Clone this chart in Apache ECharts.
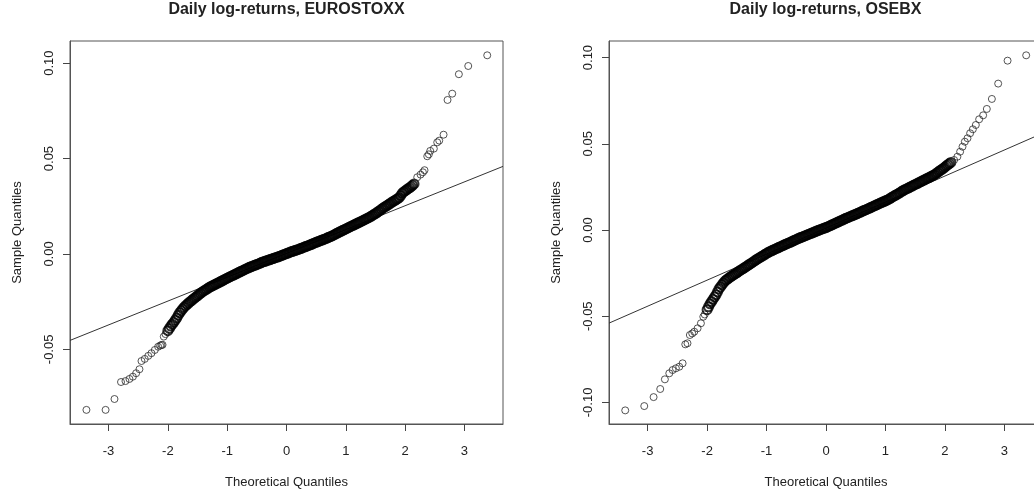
<!DOCTYPE html>
<html>
<head>
<meta charset="utf-8">
<script src="https://cdn.jsdelivr.net/npm/echarts@6/dist/echarts.min.js"></script>
<style>
html,body{margin:0;padding:0;background:#fff;}
#chart{width:1034px;height:495px;}
</style>
</head>
<body>
<div id="chart"></div>
<script>
// ---- Data ----
var titles = ['Daily log-returns, EUROSTOXX', 'Daily log-returns, OSEBX'];
var xTicks = [-3, -2, -1, 0, 1, 2, 3];
var yTicksEuro = [-0.05, 0, 0.05, 0.10];
var yTicksOsebx = [-0.10, -0.05, 0, 0.05, 0.10];

// EUROSTOXX: [theoretical quantile, sample quantile]
var euroLowerTail = [[-3.373,-0.0817],[-3.05,-0.0817],[-2.90,-0.0760],[-2.79,-0.0671],[-2.715,-0.0666],[-2.648,-0.0655],[-2.59,-0.0643],[-2.535,-0.0625],[-2.479,-0.0604],[-2.445,-0.0561],[-2.39,-0.0550],[-2.33,-0.0534],[-2.277,-0.0520],[-2.22,-0.0503],[-2.164,-0.0486],[-2.13,-0.0480],[-2.108,-0.0477],[-2.09,-0.0476],[-2.069,-0.0433],[-2.04,-0.0420]];
var euroBody = [[-2.000,-0.0402],[-1.975,-0.0390],[-1.950,-0.0378],[-1.925,-0.0368],[-1.900,-0.0358],[-1.875,-0.0347],[-1.850,-0.0335],[-1.825,-0.0321],[-1.800,-0.0308],[-1.775,-0.0298],[-1.750,-0.0288],[-1.725,-0.0279],[-1.700,-0.0271],[-1.675,-0.0264],[-1.650,-0.0257],[-1.625,-0.0250],[-1.600,-0.0244],[-1.575,-0.0237],[-1.550,-0.0231],[-1.525,-0.0225],[-1.500,-0.0219],[-1.475,-0.0212],[-1.450,-0.0206],[-1.425,-0.0200],[-1.400,-0.0195],[-1.375,-0.0190],[-1.350,-0.0185],[-1.325,-0.0180],[-1.300,-0.0175],[-1.275,-0.0171],[-1.250,-0.0167],[-1.225,-0.0163],[-1.200,-0.0159],[-1.175,-0.0155],[-1.150,-0.0151],[-1.125,-0.0147],[-1.100,-0.0143],[-1.075,-0.0139],[-1.050,-0.0135],[-1.025,-0.0131],[-1.000,-0.0127],[-0.975,-0.0123],[-0.950,-0.0119],[-0.925,-0.0115],[-0.900,-0.0112],[-0.875,-0.0108],[-0.850,-0.0104],[-0.825,-0.0100],[-0.800,-0.0096],[-0.775,-0.0092],[-0.750,-0.0089],[-0.725,-0.0085],[-0.700,-0.0081],[-0.675,-0.0077],[-0.650,-0.0074],[-0.625,-0.0070],[-0.600,-0.0067],[-0.575,-0.0064],[-0.550,-0.0061],[-0.525,-0.0058],[-0.500,-0.0055],[-0.475,-0.0052],[-0.450,-0.0049],[-0.425,-0.0045],[-0.400,-0.0042],[-0.375,-0.0040],[-0.350,-0.0037],[-0.325,-0.0034],[-0.300,-0.0032],[-0.275,-0.0029],[-0.250,-0.0026],[-0.225,-0.0024],[-0.200,-0.0021],[-0.175,-0.0018],[-0.150,-0.0016],[-0.125,-0.0013],[-0.100,-0.0010],[-0.075,-0.0007],[-0.050,-0.0004],[-0.025,-0.0001],[0.000,0.0002],[0.025,0.0005],[0.050,0.0008],[0.075,0.0011],[0.100,0.0014],[0.125,0.0016],[0.150,0.0019],[0.175,0.0021],[0.200,0.0024],[0.225,0.0027],[0.250,0.0030],[0.275,0.0033],[0.300,0.0036],[0.325,0.0039],[0.350,0.0042],[0.375,0.0045],[0.400,0.0048],[0.425,0.0051],[0.450,0.0055],[0.475,0.0058],[0.500,0.0061],[0.525,0.0064],[0.550,0.0067],[0.575,0.0070],[0.600,0.0073],[0.625,0.0076],[0.650,0.0079],[0.675,0.0082],[0.700,0.0086],[0.725,0.0089],[0.750,0.0092],[0.775,0.0096],[0.800,0.0100],[0.825,0.0104],[0.850,0.0108],[0.875,0.0112],[0.900,0.0116],[0.925,0.0120],[0.950,0.0124],[0.975,0.0127],[1.000,0.0131],[1.025,0.0135],[1.050,0.0139],[1.075,0.0143],[1.100,0.0147],[1.125,0.0150],[1.150,0.0154],[1.175,0.0158],[1.200,0.0162],[1.225,0.0165],[1.250,0.0169],[1.275,0.0173],[1.300,0.0177],[1.325,0.0181],[1.350,0.0185],[1.375,0.0189],[1.400,0.0193],[1.425,0.0197],[1.450,0.0202],[1.475,0.0207],[1.500,0.0212],[1.525,0.0217],[1.550,0.0223],[1.575,0.0228],[1.600,0.0234],[1.625,0.0240],[1.650,0.0245],[1.675,0.0250],[1.700,0.0255],[1.725,0.0260],[1.750,0.0265],[1.775,0.0271],[1.800,0.0276],[1.825,0.0280],[1.850,0.0285],[1.875,0.0290],[1.900,0.0295],[1.925,0.0306],[1.950,0.0318],[1.975,0.0325],[2.000,0.0331],[2.025,0.0336],[2.050,0.0342],[2.075,0.0347],[2.100,0.0353],[2.125,0.0360],[2.150,0.0367]];
var euroUpperTail = [[2.204,0.0402],[2.26,0.0416],[2.30,0.0428],[2.327,0.0439],[2.373,0.0512],[2.40,0.0522],[2.423,0.0540],[2.484,0.0552],[2.541,0.0585],[2.575,0.0594],[2.648,0.0625],[2.715,0.0807],[2.794,0.0840],[2.906,0.0942],[3.064,0.0985],[3.384,0.1041]];
var euroLine = [[-3.65,-0.0453],[3.65,0.0459]];

// OSEBX: [theoretical quantile, sample quantile]
var osebxLowerTail = [[-3.377,-0.1046],[-3.057,-0.1021],[-2.90,-0.0969],[-2.788,-0.0922],[-2.71,-0.0866],[-2.636,-0.0831],[-2.58,-0.0812],[-2.525,-0.0802],[-2.468,-0.0793],[-2.412,-0.0773],[-2.367,-0.0663],[-2.33,-0.0657],[-2.29,-0.0609],[-2.25,-0.0600],[-2.216,-0.0590],[-2.16,-0.0570],[-2.104,-0.0541],[-2.064,-0.0503],[-2.04,-0.0490]];
var osebxBody = [[-2.000,-0.0462],[-1.975,-0.0445],[-1.950,-0.0428],[-1.925,-0.0415],[-1.900,-0.0402],[-1.875,-0.0389],[-1.850,-0.0376],[-1.825,-0.0359],[-1.800,-0.0342],[-1.775,-0.0330],[-1.750,-0.0318],[-1.725,-0.0307],[-1.700,-0.0296],[-1.675,-0.0289],[-1.650,-0.0283],[-1.625,-0.0276],[-1.600,-0.0270],[-1.575,-0.0264],[-1.550,-0.0259],[-1.525,-0.0253],[-1.500,-0.0248],[-1.475,-0.0242],[-1.450,-0.0236],[-1.425,-0.0230],[-1.400,-0.0225],[-1.375,-0.0219],[-1.350,-0.0214],[-1.325,-0.0208],[-1.300,-0.0202],[-1.275,-0.0197],[-1.250,-0.0191],[-1.225,-0.0185],[-1.200,-0.0179],[-1.175,-0.0173],[-1.150,-0.0168],[-1.125,-0.0162],[-1.100,-0.0157],[-1.075,-0.0152],[-1.050,-0.0147],[-1.025,-0.0141],[-1.000,-0.0136],[-0.975,-0.0131],[-0.950,-0.0126],[-0.925,-0.0122],[-0.900,-0.0118],[-0.875,-0.0114],[-0.850,-0.0110],[-0.825,-0.0106],[-0.800,-0.0102],[-0.775,-0.0098],[-0.750,-0.0094],[-0.725,-0.0090],[-0.700,-0.0086],[-0.675,-0.0082],[-0.650,-0.0078],[-0.625,-0.0075],[-0.600,-0.0071],[-0.575,-0.0067],[-0.550,-0.0063],[-0.525,-0.0059],[-0.500,-0.0055],[-0.475,-0.0051],[-0.450,-0.0047],[-0.425,-0.0044],[-0.400,-0.0040],[-0.375,-0.0037],[-0.350,-0.0033],[-0.325,-0.0030],[-0.300,-0.0026],[-0.275,-0.0023],[-0.250,-0.0019],[-0.225,-0.0016],[-0.200,-0.0012],[-0.175,-0.0009],[-0.150,-0.0005],[-0.125,-0.0002],[-0.100,0.0002],[-0.075,0.0005],[-0.050,0.0008],[-0.025,0.0011],[0.000,0.0014],[0.025,0.0018],[0.050,0.0022],[0.075,0.0026],[0.100,0.0030],[0.125,0.0034],[0.150,0.0038],[0.175,0.0042],[0.200,0.0046],[0.225,0.0050],[0.250,0.0054],[0.275,0.0058],[0.300,0.0062],[0.325,0.0066],[0.350,0.0070],[0.375,0.0073],[0.400,0.0077],[0.425,0.0081],[0.450,0.0084],[0.475,0.0088],[0.500,0.0091],[0.525,0.0095],[0.550,0.0099],[0.575,0.0103],[0.600,0.0107],[0.625,0.0111],[0.650,0.0115],[0.675,0.0118],[0.700,0.0122],[0.725,0.0126],[0.750,0.0130],[0.775,0.0134],[0.800,0.0138],[0.825,0.0142],[0.850,0.0146],[0.875,0.0150],[0.900,0.0154],[0.925,0.0158],[0.950,0.0162],[0.975,0.0165],[1.000,0.0169],[1.025,0.0173],[1.050,0.0177],[1.075,0.0182],[1.100,0.0188],[1.125,0.0193],[1.150,0.0198],[1.175,0.0203],[1.200,0.0208],[1.225,0.0213],[1.250,0.0218],[1.275,0.0224],[1.300,0.0229],[1.325,0.0234],[1.350,0.0238],[1.375,0.0242],[1.400,0.0246],[1.425,0.0251],[1.450,0.0255],[1.475,0.0260],[1.500,0.0264],[1.525,0.0268],[1.550,0.0272],[1.575,0.0277],[1.600,0.0281],[1.625,0.0286],[1.650,0.0290],[1.675,0.0295],[1.700,0.0299],[1.725,0.0303],[1.750,0.0307],[1.775,0.0312],[1.800,0.0316],[1.825,0.0321],[1.850,0.0327],[1.875,0.0333],[1.900,0.0340],[1.925,0.0346],[1.950,0.0352],[1.975,0.0358],[2.000,0.0365],[2.025,0.0372],[2.050,0.0379],[2.075,0.0385],[2.100,0.0392]];
var osebxUpperTail = [[2.155,0.0406],[2.21,0.0425],[2.256,0.0454],[2.296,0.0483],[2.335,0.0512],[2.38,0.0532],[2.424,0.0561],[2.47,0.0584],[2.52,0.0609],[2.576,0.0642],[2.643,0.0665],[2.705,0.0702],[2.79,0.0760],[2.896,0.0849],[3.054,0.0982],[3.367,0.1013]];
var osebxLine = [[-3.65,-0.0540],[3.65,0.0562]];

// ---- Chart ----
var FONT = '"Liberation Sans", Arial, Helvetica, sans-serif';
var INK = '#222';
var chart = echarts.init(document.getElementById('chart'), null, {renderer: 'canvas'});

function xAxisFor(gi) {
  return {
    gridIndex: gi, type: 'value', min: -3.65, max: 3.65,
    name: 'Theoretical Quantiles', nameLocation: 'middle', nameGap: 52,
    nameTextStyle: {fontFamily: FONT, fontSize: 13, color: INK},
    axisLine: {show: true, onZero: false, lineStyle: {color: '#555', width: 1}},
    axisTick: {show: true, inside: false, length: 7, lineStyle: {color: '#444', width: 1}, customValues: xTicks},
    axisLabel: {show: true, margin: 21, fontFamily: FONT, fontSize: 13, color: INK, customValues: xTicks,
      formatter: function (v) { return String(v); }},
    splitLine: {show: false}
  };
}
function yAxisFor(gi, mn, mx, ticks) {
  return {
    gridIndex: gi, type: 'value', min: mn, max: mx,
    name: 'Sample Quantiles', nameLocation: 'middle', nameGap: 46,
    nameTextStyle: {fontFamily: FONT, fontSize: 13, color: INK},
    axisLine: {show: true, onZero: false, lineStyle: {color: '#555', width: 1}},
    axisTick: {show: true, inside: false, length: 7, lineStyle: {color: '#444', width: 1}, customValues: ticks},
    axisLabel: {show: true, rotate: 90, margin: 14, fontFamily: FONT, fontSize: 13, color: INK, customValues: ticks,
      formatter: function (v) { return v.toFixed(2); }},
    splitLine: {show: false}
  };
}
var tailStyle = {color: 'rgba(0,0,0,0)', borderColor: '#2a2a2a', borderWidth: 1};
var bodyStyle = {color: 'rgba(0,0,0,0)', borderColor: '#000', borderWidth: 2};
function scatter(gi, data, style, size) {
  return {type: 'scatter', xAxisIndex: gi, yAxisIndex: gi, data: data, symbol: 'circle', symbolSize: size,
    itemStyle: style, silent: true, animation: false, clip: true};
}
function refLine(gi, data) {
  return {type: 'line', xAxisIndex: gi, yAxisIndex: gi, data: data, symbol: 'none',
    lineStyle: {color: '#333', width: 1}, silent: true, animation: false, clip: true, z: 1};
}

chart.setOption({
  backgroundColor: '#fff',
  animation: false,
  grid: [
    {left: 70, top: 41, width: 433, height: 383, show: true, borderColor: '#555', borderWidth: 1, backgroundColor: 'transparent', outerBoundsMode: 'none', containLabel: false},
    {left: 609, top: 41, width: 434, height: 383, show: true, borderColor: '#555', borderWidth: 1, backgroundColor: 'transparent', outerBoundsMode: 'none', containLabel: false}
  ],
  xAxis: [xAxisFor(0), xAxisFor(1)],
  yAxis: [yAxisFor(0, -0.0891, 0.1116, yTicksEuro), yAxisFor(1, -0.1125, 0.1096, yTicksOsebx)],
  graphic: [
    {type: 'text', x: 286.5, y: 10, style: {text: titles[0], font: 'bold 16px ' + FONT, fill: INK, textAlign: 'center', textVerticalAlign: 'middle'}},
    {type: 'text', x: 825.5, y: 10, style: {text: titles[1], font: 'bold 16px ' + FONT, fill: INK, textAlign: 'center', textVerticalAlign: 'middle'}}
  ],
  series: [
    refLine(0, euroLine),
    scatter(0, euroLowerTail, tailStyle, 7), scatter(0, euroBody, bodyStyle, 9), scatter(0, euroUpperTail, tailStyle, 7),
    refLine(1, osebxLine),
    scatter(1, osebxLowerTail, tailStyle, 7), scatter(1, osebxBody, bodyStyle, 9), scatter(1, osebxUpperTail, tailStyle, 7)
  ]
});
</script>
</body>
</html>
